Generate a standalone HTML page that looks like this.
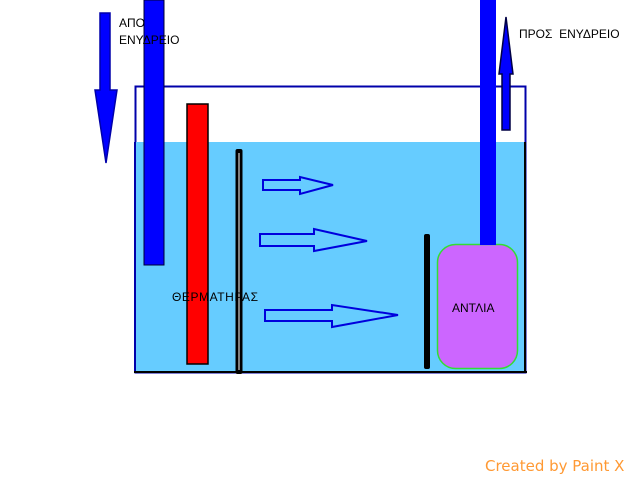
<!DOCTYPE html>
<html><head><meta charset="utf-8"><style>body{margin:0;background:#fff}svg{display:block}</style></head>
<body>
<svg width="640" height="480" xmlns="http://www.w3.org/2000/svg" font-family="Liberation Sans, DejaVu Sans, sans-serif">
<rect x="135.5" y="86.5" width="390" height="286" fill="none" stroke="#0000aa" stroke-width="2"/>
<rect x="135" y="142" width="391" height="230" fill="#66ccff"/>
<line x1="135" y1="142" x2="135" y2="372" stroke="#0000aa" stroke-width="2"/>
<line x1="525" y1="142" x2="525" y2="372" stroke="#000" stroke-width="2"/>
<line x1="134" y1="372" x2="527" y2="372" stroke="#000" stroke-width="2"/>
<rect x="144" y="0" width="20" height="265" fill="#0000ff" stroke="#000033" stroke-width="1"/>
<rect x="187" y="104" width="21" height="260" fill="#ff0000" stroke="#000" stroke-width="1.5"/>
<rect x="235.5" y="149" width="7" height="225" rx="2" fill="#000"/>
<line x1="239" y1="153" x2="239" y2="370" stroke="#fff" stroke-width="1"/>
<rect x="424" y="234" width="6" height="135" rx="2" fill="#000"/>
<rect x="437.5" y="244.5" width="80" height="124" rx="18" fill="#cc66ff" stroke="#33dd33" stroke-width="1.5"/>
<rect x="480" y="0" width="16" height="245" fill="#0000ff"/>
<polygon points="100,13 110,13 110,90 117,90 106,163 95,90 100,90" fill="#0000ff" stroke="#0000aa" stroke-width="1.5"/>
<polygon points="502,130 510,130 510,74 513,74 506,17 499,74 502,74" fill="#0000ff" stroke="#000044" stroke-width="1.5"/>
<g fill="none" stroke="#0000dd" stroke-width="2">
<polygon points="263,180 300,180 300,177 333,185 300,194 300,190 263,190"/>
<polygon points="260,234 314,234 314,229 367,241 314,251 314,246 260,246"/>
<polygon points="265,310 332,310 332,305 398,315 332,327 332,321 265,321"/>
</g>
<g font-size="12" fill="#000">
<text x="119" y="27">ΑΠΟ</text>
<text x="119" y="44">ΕΝΥΔΡΕΙΟ</text>
<text x="519" y="38">ΠΡΟΣ&#160; ΕΝΥΔΡΕΙΟ</text>
<text x="172" y="301" textLength="86">ΘΕΡΜΑΤΗΡΑΣ</text>
<text x="452" y="312">ΑΝΤΛΙΑ</text>
</g>
<text x="485" y="471" font-size="15" fill="#ff9933" font-family="DejaVu Sans, sans-serif">Created by Paint X</text>
</svg>
</body></html>
